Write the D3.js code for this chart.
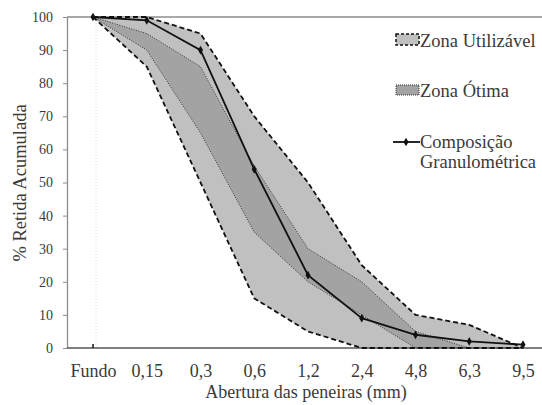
<!DOCTYPE html>
<html><head><meta charset="utf-8">
<script src="https://cdn.jsdelivr.net/npm/d3@7"></script>
<style>
html,body{margin:0;padding:0;background:#fff;}
svg text{font-family:"Times New Roman",Times,"Liberation Serif","DejaVu Serif",serif !important;}
</style></head>
<body>
<svg id="chart" width="542" height="405"></svg>
<script>
const categories = ["Fundo","0,15","0,3","0,6","1,2","2,4","4,8","6,3","9,5"];
const utilLower  = [100, 85, 50, 15, 5, 0, 0, 0, 0];
const utilUpper  = [100,100, 95, 70,50,25,10, 7, 0];
const otimaLower = [100, 90, 65, 35,20,10, 0, 0, 0];
const otimaUpper = [100, 95, 85, 55,30,20, 5, 0, 0];
const composicao = [100, 99, 90, 54,22, 9, 4, 2, 1];
const yTicks = [0,10,20,30,40,50,60,70,80,90,100];

const FF = "Times New Roman, Liberation Serif, DejaVu Serif, serif";
const svg = d3.select("#chart");
const L = 67, R = 542, T = 17, B = 348;
const x = d3.scalePoint().domain(categories).range([93, 523]);
const y = d3.scaleLinear().domain([0,100]).range([B, T]);
const txt = "#3a3a3a";

svg.append("line").attr("x1",L).attr("x2",R).attr("y1",T).attr("y2",T).attr("stroke","#8c8c8c").attr("stroke-width",1.3);

const area = (lo, hi) => d3.area().x((d,i)=>x(categories[i])).y0((d,i)=>y(lo[i])).y1((d,i)=>y(hi[i]))(categories);
const line = (v) => d3.line().x((d,i)=>x(categories[i])).y((d,i)=>y(v[i]))(categories);

svg.append("path").attr("d", area(utilLower, utilUpper)).attr("fill","#c0c0c0");
svg.append("path").attr("d", area(otimaLower, otimaUpper)).attr("fill","#a3a3a3");

svg.append("line").attr("x1",x("Fundo")+3).attr("x2",x("Fundo")+3).attr("y1",y(0)).attr("y2",y(100))
  .attr("stroke","#d8d8d8").attr("stroke-width",1).attr("stroke-dasharray","1,2");

[otimaLower, otimaUpper].forEach(v=>{
  svg.append("path").attr("d", line(v)).attr("fill","none").attr("stroke","#333").attr("stroke-width",1).attr("stroke-dasharray","1,1.5");
});

const yAxis = d3.axisLeft(y).tickValues(yTicks).tickSize(4).tickSizeOuter(0).tickFormat(d3.format("d"));
const gy = svg.append("g").attr("transform",`translate(${L},0)`).call(yAxis).attr("font-family",FF);
gy.select(".domain").attr("stroke","#8c8c8c").attr("stroke-width",1.3);
gy.selectAll(".tick line").attr("stroke","#8c8c8c");
gy.selectAll(".tick text").attr("x",-14).attr("font-size",14).attr("fill",txt);

svg.append("line").attr("x1",L).attr("x2",R).attr("y1",B).attr("y2",B).attr("stroke","#555").attr("stroke-width",1.5);

const xAxis = d3.axisBottom(x).tickSize(0).tickSizeOuter(0);
const gx = svg.append("g").attr("transform",`translate(0,${B})`).call(xAxis).attr("font-family",FF);
gx.select(".domain").remove();
gx.selectAll(".tick text").attr("y",29).attr("dy",0).attr("font-size",18).attr("fill",txt);

[utilLower, utilUpper].forEach(v=>{
  svg.append("path").attr("d", line(v)).attr("fill","none").attr("stroke","#111").attr("stroke-width",1.8).attr("stroke-dasharray","5,3");
});
svg.append("line").attr("x1",x("Fundo")).attr("x2",x("Fundo")).attr("y1",y(0)).attr("y2",y(0)-4).attr("stroke","#111").attr("stroke-width",1.5);

svg.append("path").attr("d", line(composicao)).attr("fill","none").attr("stroke","#111").attr("stroke-width",1.8);
const diamond = d3.symbol().type(d3.symbolDiamond).size(22);
svg.selectAll(".pt").data(composicao).enter().append("path").attr("class","pt")
  .attr("d",diamond).attr("transform",(d,i)=>`translate(${x(categories[i])},${y(d)})`).attr("fill","#111");

svg.append("text").attr("x",306).attr("y",398).attr("text-anchor","middle").attr("font-family",FF).attr("font-size",18).attr("fill",txt).text("Abertura das peneiras (mm)");
svg.append("text").attr("transform","translate(26,183) rotate(-90)").attr("text-anchor","middle").attr("font-family",FF).attr("font-size",18.5).attr("fill",txt).text("% Retida Acumulada");

const lg = svg.append("g").attr("font-family",FF);
lg.append("rect").attr("x",396).attr("y",34).attr("width",23).attr("height",11).attr("fill","#c0c0c0").attr("stroke","#111").attr("stroke-width",1.5).attr("stroke-dasharray","3,2");
lg.append("text").attr("x",420).attr("y",47).attr("font-size",18.5).attr("fill",txt).text("Zona Utilizável");
lg.append("rect").attr("x",396).attr("y",85).attr("width",23).attr("height",10).attr("fill","#a3a3a3").attr("stroke","#333").attr("stroke-width",1).attr("stroke-dasharray","1,1");
lg.append("text").attr("x",420).attr("y",97).attr("font-size",18.5).attr("fill",txt).text("Zona Ótima");
lg.append("line").attr("x1",393).attr("x2",420).attr("y1",142).attr("y2",142).attr("stroke","#111").attr("stroke-width",1.8);
lg.append("path").attr("d",diamond).attr("transform","translate(406,142)").attr("fill","#111");
lg.append("text").attr("x",420).attr("y",148).attr("font-size",18.5).attr("fill",txt).text("Composição");
lg.append("text").attr("x",420).attr("y",168).attr("font-size",18.5).attr("fill",txt).text("Granulométrica");
</script>
</body></html>
